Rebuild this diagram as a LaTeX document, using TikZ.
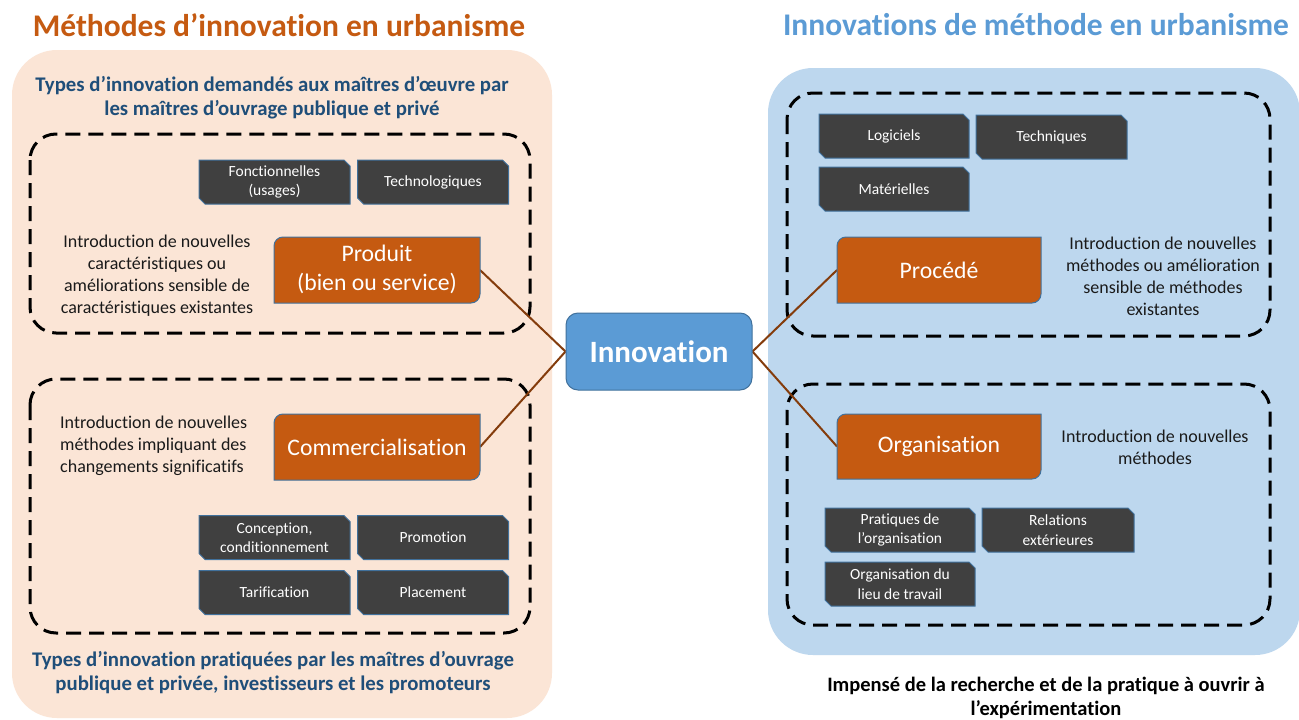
\documentclass[tikz,border=0pt]{standalone}
\usepackage{fontspec}
\setmainfont{Carlito}[Ligatures=NoCommon]
\usetikzlibrary{calc}
\pgfdeclarelayer{panel}
\pgfdeclarelayer{bg}
\pgfsetlayers{panel,bg,main}
\definecolor{peach}{HTML}{FBE5D6}
\definecolor{lblue}{HTML}{BDD7EE}
\definecolor{orangec}{HTML}{C55A11}
\definecolor{bluec}{HTML}{5B9BD5}
\definecolor{dblue}{HTML}{1F4E79}
\definecolor{edgec}{HTML}{41719C}
\definecolor{tagfill}{HTML}{404040}
\definecolor{connc}{HTML}{843C0C}
\definecolor{bodyc}{HTML}{1A1A1A}
\tikzset{
  tagnode/.style={text=white, font=\fontsize{15.5}{19.5}\selectfont, align=center, minimum width=151pt, minimum height=44pt, inner sep=0pt, outer sep=0pt},
  onode/.style={text=white, font=\fontsize{23.7}{29}\selectfont, align=center, minimum width=206pt, minimum height=66pt, inner sep=0pt, outer sep=0pt},
  body/.style={font=\fontsize{18}{22}\selectfont, text=bodyc, align=center, inner sep=0pt},
  tagshape/.style={fill=tagfill, draw=edgec, line width=1pt},
  oshape/.style={fill=orangec, draw=edgec, line width=1pt},
  dashbox/.style={draw=black, line width=3pt, dash pattern=on 15pt off 8pt, rounded corners=26pt},
  conn/.style={draw=connc, line width=2pt},
  panelbox/.style={rounded corners=45pt},
  ttl/.style={font=\fontsize{31.5}{34}\selectfont\bfseries, inner sep=0pt},
  sub/.style={font=\fontsize{20.8}{24}\selectfont\bfseries, text=dblue, align=center, inner sep=0pt}
}
\newcommand\tagpath[1]{\path[tagshape] (#1.north west) -- ([xshift=-6pt]#1.north east) -- ([yshift=-6pt]#1.north east) -- (#1.south east) -- ([xshift=6pt]#1.south west) -- ([yshift=6pt]#1.south west) -- cycle;}
\newcommand\opath[1]{\path[oshape] ([yshift=-9pt]#1.north west) .. controls ([yshift=-4pt]#1.north west) and ([xshift=4pt]#1.north west) .. ([xshift=9pt]#1.north west) -- (#1.north east) -- ([yshift=9pt]#1.south east) .. controls ([yshift=4pt]#1.south east) and ([xshift=-4pt]#1.south east) .. ([xshift=-9pt]#1.south east) -- (#1.south west) -- cycle;}
\begin{document}
\begin{tikzpicture}[x=1pt,y=-1pt]
\useasboundingbox (0,0) rectangle (1299,720);
\begin{pgfonlayer}{panel}
  \fill[white] (0,0) rectangle (1299,720);
  \fill[peach, panelbox] (12,50) rectangle (552,718);
  \fill[lblue, panelbox] (768,68) rectangle (1300,655);
\end{pgfonlayer}
% titles
\node[ttl, text=orangec] (t1) at (279,25) {Méthodes d’innovation en urbanisme};
\node[ttl, text=bluec] (t2) at (1036,25) {Innovations de méthode en urbanisme};
\node[sub] (s1) at (272,98) {Types d’innovation demandés aux maîtres d’œuvre par\\les maîtres d’ouvrage publique et privé};
\node[sub] (s2) at (273,673) {Types d’innovation pratiquées par les maîtres d’ouvrage\\publique et privée, investisseurs et les promoteurs};
\node[sub, text=black, font=\fontsize{20.5}{24}\selectfont\bfseries] (s3) at (1046,698) {Impensé de la recherche et de la pratique à ouvrir à\\l’expérimentation};
% central node
\node[fill=bluec, draw=edgec, line width=1pt, rounded corners=12pt, minimum width=186pt, minimum height=77pt, text=white, font=\fontsize{31}{32}\selectfont\bfseries, inner sep=0pt] (inno) at (659,351.5) {Innovation};
% orange nodes
\node[onode] (prod) at (377,270) {\raisebox{-3pt}{\begin{tabular}{@{}c@{}}Produit\\(bien ou service)\end{tabular}}};
\node[onode] (comm) at (377,447) {Commercialisation};
\node[onode, minimum width=204pt] (proc) at (939,270) {Procédé};
\node[onode, minimum width=204pt, minimum height=65pt] (orga) at (939,446.5) {\raisebox{-2pt}{Organisation}};
% tags
\node[tagnode] (fonc) at (274.5,182) {Fonctionnelles\\(usages)};
\node[tagnode] (tech) at (433,182) {Technologiques};
\node[tagnode] (conc) at (274.5,537.5) {Conception,\\conditionnement};
\node[tagnode] (promo) at (433,537.5) {Promotion};
\node[tagnode] (tarif) at (274.5,592.5) {Tarification};
\node[tagnode] (place) at (433,592.5) {Placement};
\node[tagnode, minimum width=150pt] (logi) at (894,136) {Logiciels};
\node[tagnode] (techn) at (1051.5,137) {Techniques};
\node[tagnode, minimum width=150pt] (mat) at (894,189) {Matérielles};
\node[tagnode, minimum width=150pt] (prat) at (900,530) {Pratiques de\\l’organisation};
\node[tagnode, minimum width=152pt] (rel) at (1058,530) {Relations\\extérieures};
\node[tagnode, minimum width=150pt] (lieu) at (900,584) {Organisation du\\lieu de travail};
% body texts
\node[body] (b1) at (157,276) {Introduction de nouvelles\\caractéristiques ou\\améliorations sensible de\\caractéristiques existantes};
\node[body, align=left, anchor=west] (b2) at (60,446) {Introduction de nouvelles\\méthodes impliquant des\\changements significatifs};
\node[body] (b3) at (1163,276) {Introduction de nouvelles\\méthodes ou amélioration\\sensible de méthodes\\existantes};
\node[body] (b4) at (1155,447) {Introduction de nouvelles\\méthodes};
\begin{pgfonlayer}{bg}
  \draw[dashbox] (30,134) rectangle (530,333);
  \draw[dashbox] (30,379) rectangle (530,633);
  \draw[dashbox] (787,93) rectangle (1270,336);
  \draw[dashbox] (787,384) rectangle (1270,625);
  \draw[conn] (prod.east) -- (inno.west);
  \draw[conn] (comm.east) -- (inno.west);
  \draw[conn] (inno.east) -- (proc.west);
  \draw[conn] (inno.east) -- (orga.west);
  \opath{prod}\opath{comm}\opath{proc}\opath{orga}
  \foreach \n in {fonc,tech,conc,promo,tarif,place,logi,techn,mat,prat,rel,lieu}{\tagpath{\n}}
\end{pgfonlayer}
\end{tikzpicture}
\end{document}
